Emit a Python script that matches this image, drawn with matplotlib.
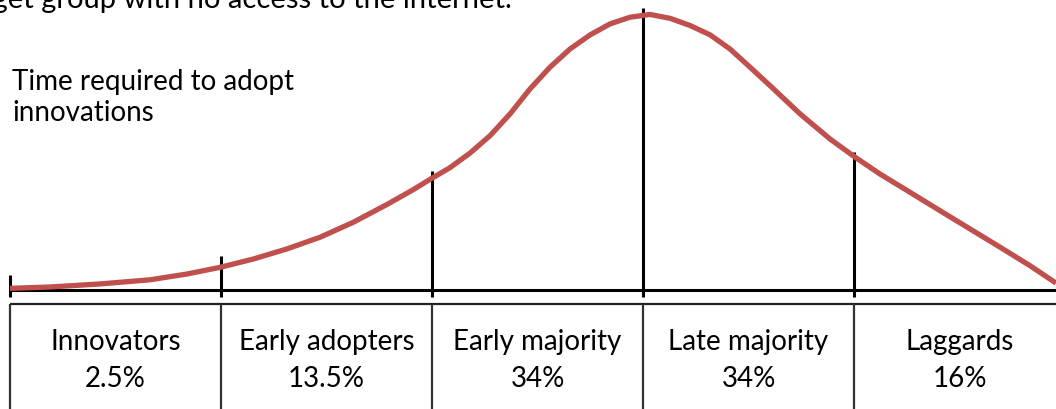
import matplotlib
matplotlib.use('Agg')
import matplotlib.pyplot as plt

# adoption curve (x in segment units, y relative height, peak ~ 100)
curve_x = [0.000, 0.190, 0.427, 0.664, 0.839, 0.995, 1.152, 1.313, 1.469, 1.626,
           1.787, 1.910, 1.991, 2.085, 2.180, 2.275, 2.370, 2.464, 2.559, 2.654,
           2.749, 2.844, 2.938, 3.033, 3.128, 3.223, 3.318, 3.412, 3.507, 3.602,
           3.744, 3.886, 4.005, 4.123, 4.265, 4.408, 4.550, 4.692, 4.834, 4.957]
curve_y = [0.6, 1.1, 2.2, 3.7, 5.8, 8.2, 11.2, 14.9, 19.1, 24.5,
           31.0, 36.3, 40.1, 44.3, 49.6, 55.9, 63.8, 72.8, 80.7, 87.3,
           92.4, 96.4, 98.8, 99.8, 98.4, 95.8, 92.4, 87.3, 80.7, 74.0,
           63.8, 54.7, 48.1, 42.0, 35.4, 28.7, 22.1, 15.5, 8.8, 2.5]

# segment boundaries and the height of the marker line at each
bounds = [0, 1, 2, 3, 4]
marker_top = [5.4, 12.3, 43.1, 102.2, 50.0]

groups = ['Innovators', 'Early adopters', 'Early majority', 'Late majority', 'Laggards']
shares = ['2.5%', '13.5%', '34%', '34%', '16%']

note = 'Time required to adopt\ninnovations'
top_text = 'target group with no access to the internet.'

red = '#c0504d'
fnt = ['Lato', 'DejaVu Sans']
size = 20

fig = plt.figure(figsize=(10.56, 4.10), dpi=100)
ax = fig.add_axes([0, 0, 1, 1])
ax.set_xlim(-0.0474, 4.957)
ax.set_ylim(-43.1, 105.4)
ax.axis('off')

# baseline
ax.plot([0, 5.2], [0, 0], color='black', lw=2.2, solid_capstyle='butt')
# segment markers
for b, t in zip(bounds, marker_top):
    ax.plot([b, b], [-2.5, t], color='black', lw=2.2, solid_capstyle='butt')

ax.plot(curve_x, curve_y, color=red, lw=3.8, solid_capstyle='butt',
        solid_joinstyle='round', zorder=3)

# table below
ax.plot([0, 5.2], [-5.07, -5.07], color='#222222', lw=1.6, solid_capstyle='butt')
for b in bounds:
    ax.plot([b, b], [-5.07, -50], color='#333333', lw=1.6, solid_capstyle='butt')
for i, (g, s) in enumerate(zip(groups, shares)):
    ax.text(i + 0.5, -21.4, g, ha='center', va='baseline', fontsize=size, family=fnt)
    ax.text(i + 0.5, -34.8, s, ha='center', va='baseline', fontsize=size, family=fnt)

ax.text(0.0095, 61.6, note, ha='left', va='baseline', fontsize=size, family=fnt,
        linespacing=1.25)
# sentence cut off at the top edge, as in the source
ax.text(2.379, 102.5, top_text, ha='right', va='baseline', fontsize=21, family=fnt)

fig.savefig('out.png', dpi=100)
